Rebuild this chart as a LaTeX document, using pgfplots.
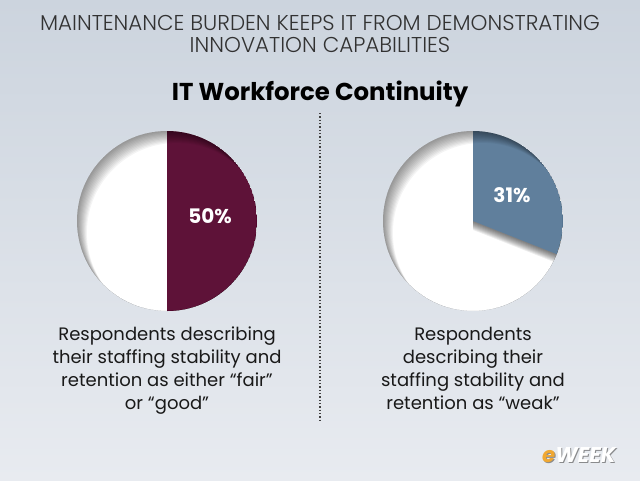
\documentclass[border=0pt]{standalone}
\usepackage{pgfplots}
\pgfplotsset{compat=1.18}
\usepackage{fontspec}
\setmainfont{Poppins}
\newfontfamily\lightfont{Poppins}[UprightFont={* Light}]
\definecolor{bgtop}{RGB}{204,212,222}
\definecolor{bgbot}{RGB}{232,235,240}
\definecolor{maroon}{RGB}{94,18,56}
\definecolor{steel}{RGB}{96,127,156}
\definecolor{txt}{RGB}{25,25,25}
\definecolor{sub}{RGB}{50,50,50}
\definecolor{ewo}{RGB}{240,168,50}
% pie values (percent)
\def\valA{50}
\def\valB{31}
\newcommand\pie[2]{%
  % #1 value, #2 colour
  \fill[white] (axis cs:0,0) circle[radius=67.5pt];
  \begin{scope}
    \clip (axis cs:0,0) circle[radius=67.5pt];
    \pgfplotsinvokeforeach{1,...,9}{
      \fill[black,opacity=0.07] (axis cs:0,{-##1*0.011}) -- (axis cs:0,{1-##1*0.011})
        arc[start angle=90,end angle={90-#1*3.6},radius=67.5pt] -- cycle;
    }
    \fill[#2] (axis cs:0,0) -- (axis cs:0,1)
        arc[start angle=90,end angle={90-#1*3.6},radius=67.5pt] -- cycle;
    \pgfplotsinvokeforeach{1,...,11}{
      \fill[black,opacity=0.045,even odd rule] (axis cs:0,0) circle[radius=67.5pt]
        (axis cs:{##1*0.010},{-##1*0.012}) circle[radius=67.5pt];
    }
  \end{scope}
}
\begin{document}
\begin{tikzpicture}[x=0.75pt,y=-0.75pt]
\shade[top color=bgtop,bottom color=bgbot] (0,0) rectangle (640,480);
\node[anchor=base,text=sub,font=\lightfont\fontsize{16.1}{18}\selectfont] at (320,30.5) {MAINTENANCE BURDEN KEEPS IT FROM DEMONSTRATING};
\node[anchor=base,text=sub,font=\lightfont\fontsize{16.1}{18}\selectfont] at (320,52.5) {INNOVATION CAPABILITIES};
\node[anchor=base,text=black,font=\bfseries\fontsize{18.3}{22}\selectfont] at (320,100) {IT Workforce Continuity};
\draw[black!75,line width=1pt,dash pattern=on 0.9pt off 1.6pt] (320,113) -- (320,420);
\coordinate (L) at (167,221);
\coordinate (R) at (473,221);
\begin{axis}[at={(L)},anchor=center,hide axis,x=67.5pt,y=67.5pt,
  xmin=-1.2,xmax=1.2,ymin=-1.2,ymax=1.2,clip=false]
\pie{\valA}{maroon}
\end{axis}
\begin{axis}[at={(R)},anchor=center,hide axis,x=67.5pt,y=67.5pt,
  xmin=-1.2,xmax=1.2,ymin=-1.2,ymax=1.2,clip=false]
\pie{\valB}{steel}
\end{axis}
\node[anchor=base,text=white,font=\bfseries\fontsize{15}{16}\selectfont] at (210,223) {\valA\%};
\node[anchor=base,text=white,font=\bfseries\fontsize{15}{16}\selectfont] at (512,202) {\valB\%};
\begin{scope}[every node/.style={anchor=base,text=txt,font=\fontsize{13.5}{16}\selectfont}]
\node at (167,340) {Respondents describing};
\node at (167,363) {their staffing stability and};
\node at (167,386) {retention as either “fair”};
\node at (167,409) {or “good”};
\node at (473,340) {Respondents};
\node at (473,363) {describing their};
\node at (473,386) {staffing stability and};
\node at (473,409) {retention as “weak”};
\end{scope}
\node[anchor=base,font=\bfseries\itshape\fontsize{16}{17}\selectfont,text=black!70,opacity=0.6] at (580,463.5) {\textcolor{black!70}{e}WEEK};
\node[anchor=base,font=\bfseries\itshape\fontsize{16}{17}\selectfont,text=white] at (579,462) {\textcolor{ewo}{e}WEEK};
\end{tikzpicture}
\end{document}
